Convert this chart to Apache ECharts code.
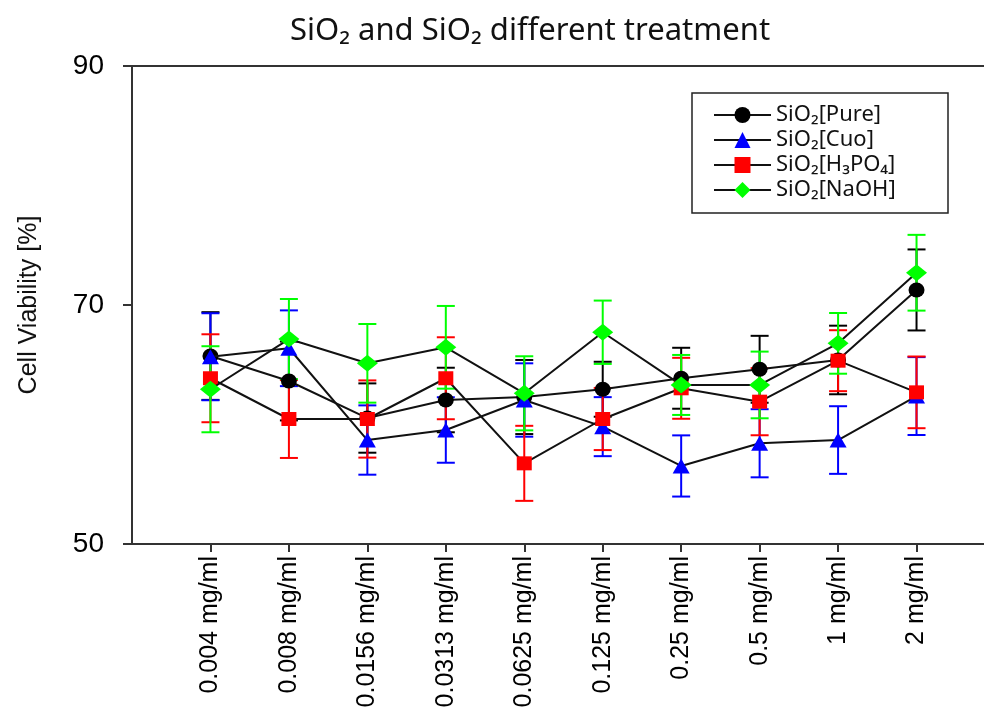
<!DOCTYPE html>
<html><head><meta charset="utf-8">
<script src="https://cdn.jsdelivr.net/npm/echarts@6/dist/echarts.min.js"></script>
<style>html,body{margin:0;padding:0;background:#fff}#c{width:984px;height:720px}</style>
</head><body><div id="c"></div>
<script>
const categories = ['0.004 mg/ml','0.008 mg/ml','0.0156 mg/ml','0.0313 mg/ml','0.0625 mg/ml','0.125 mg/ml','0.25 mg/ml','0.5 mg/ml','1 mg/ml','2 mg/ml'];
const yTicks = [50, 70, 90];
const pureMean = [65.73, 63.64, 60.54, 62.05, 62.30, 62.95, 63.87, 64.62, 65.40, 71.26];
const pureErr  = [3.67, 3.30, 2.90, 2.70, 3.10, 2.30, 2.55, 2.80, 2.87, 3.39];
const cuoMean  = [65.67, 66.38, 58.70, 59.54, 62.05, 59.82, 56.53, 58.43, 58.70, 62.38];
const cuoErr   = [3.64, 3.17, 2.90, 2.74, 3.07, 2.47, 2.56, 2.85, 2.83, 3.26];
const h3po4Mean = [63.87, 60.46, 60.46, 63.87, 56.75, 60.46, 63.03, 61.91, 65.34, 62.69];
const h3po4Err  = [3.68, 3.26, 3.23, 3.43, 3.14, 2.60, 2.55, 2.81, 2.55, 3.00];
const naohMean = [62.95, 67.15, 65.12, 66.46, 62.61, 67.72, 63.31, 63.31, 66.79, 72.70];
const naohErr  = [3.60, 3.35, 3.29, 3.46, 3.10, 2.65, 2.51, 2.79, 2.54, 3.17];

const defs = [
  {name:'SiO₂[Pure]',  mean:pureMean,  err:pureErr,  color:'#000000', symbol:'circle',   size:[16,15]},
  {name:'SiO₂[Cuo]',   mean:cuoMean,   err:cuoErr,   color:'#0000ff', symbol:'triangle', size:[17,15]},
  {name:'SiO₂[H₃PO₄]', mean:h3po4Mean, err:h3po4Err, color:'#ff0000', symbol:'rect',     size:[15,14]},
  {name:'SiO₂[NaOH]',  mean:naohMean,  err:naohErr,  color:'#00ff00', symbol:'diamond',  size:[21,17]}
];

function errSeries(d, k){
  return {
    type:'custom', name:d.name + ' error', silent:true, z:2 + k*0.01,
    data: d.mean.map((m,i)=>[i, m - d.err[i], m + d.err[i]]),
    encode:{x:0, y:[1,2]},
    renderItem(params, api){
      const x = api.value(0);
      const lo = api.coord([x, api.value(1)]);
      const hi = api.coord([x, api.value(2)]);
      const hw = 9;
      const st = {stroke:d.color, lineWidth:2};
      return {type:'group', children:[
        {type:'line', shape:{x1:lo[0], y1:lo[1], x2:hi[0], y2:hi[1]}, style:st},
        {type:'line', shape:{x1:lo[0]-hw, y1:lo[1], x2:lo[0]+hw, y2:lo[1]}, style:st},
        {type:'line', shape:{x1:hi[0]-hw, y1:hi[1], x2:hi[0]+hw, y2:hi[1]}, style:st}
      ]};
    }
  };
}
function lineSeries(d, k){
  return {
    type:'line', name:d.name, z:5 + k*0.01,
    data: d.mean.map((m,i)=>[i, m]),
    symbol:d.symbol, symbolSize:d.size,
    itemStyle:{color:d.color, opacity:1},
    lineStyle:{color:'#111', width:2},
    showAllSymbol:true, animation:false
  };
}

const series = [];
defs.forEach((d,k)=>{ series.push(errSeries(d,k)); });
defs.forEach((d,k)=>{ series.push(lineSeries(d,k)); });

const chart = echarts.init(document.getElementById('c'));
chart.setOption({
  animation:false,
  backgroundColor:'#ffffff',
  title:{
    text:'SiO₂ and SiO₂ different treatment',
    left:525, top:11, textAlign:'center',
    textStyle:{fontFamily:'Noto Sans', fontSize:31, fontWeight:'normal', color:'#111'}
  },
  grid:{left:132, right:0, top:66, bottom:176, containLabel:false},
  legend:{
    data: defs.map(d=>d.name),
    orient:'vertical', left:708, top:99,
    itemWidth:57, itemHeight:20, itemGap:3,
    selectedMode:false,
    textStyle:{fontFamily:'Noto Sans', fontSize:22, color:'#111'}
  },
  graphic:[{type:'rect', shape:{x:692, y:93, width:256, height:120}, style:{fill:'none', stroke:'#222', lineWidth:1.5}, z:10}],
  xAxis:[{
    type:'value', min:-1, max:9.86,
    axisLine:{show:true, onZero:false, lineStyle:{color:'#333', width:2}},
    axisTick:{show:true, customValues:categories.map((c,i)=>i), length:8, lineStyle:{color:'#333', width:2}},
    axisLabel:{show:true, customValues:categories.map((c,i)=>i), rotate:90, margin:12,
      formatter:(v)=>categories[Math.round(v)] || '',
      fontFamily:'Liberation Sans', fontSize:25, color:'#000'},
    splitLine:{show:false}
  },{
    type:'value', position:'top', min:-1, max:9.86,
    axisLine:{show:true, onZero:false, lineStyle:{color:'#333', width:2}},
    axisTick:{show:false}, axisLabel:{show:false}, splitLine:{show:false}
  }],
  yAxis:{
    type:'value', min:50, max:90,
    name:'Cell Viability [%]', nameLocation:'middle', nameGap:90,
    nameTextStyle:{fontFamily:'Liberation Sans', fontSize:25, color:'#111'},
    axisLine:{show:true, onZero:false, lineStyle:{color:'#333', width:2}},
    axisTick:{show:true, customValues:yTicks, length:9, lineStyle:{color:'#333', width:2}},
    axisLabel:{customValues:yTicks, margin:28, fontFamily:'Liberation Sans', fontSize:28, color:'#000'},
    splitLine:{show:false}
  },
  series: series
});
</script></body></html>
